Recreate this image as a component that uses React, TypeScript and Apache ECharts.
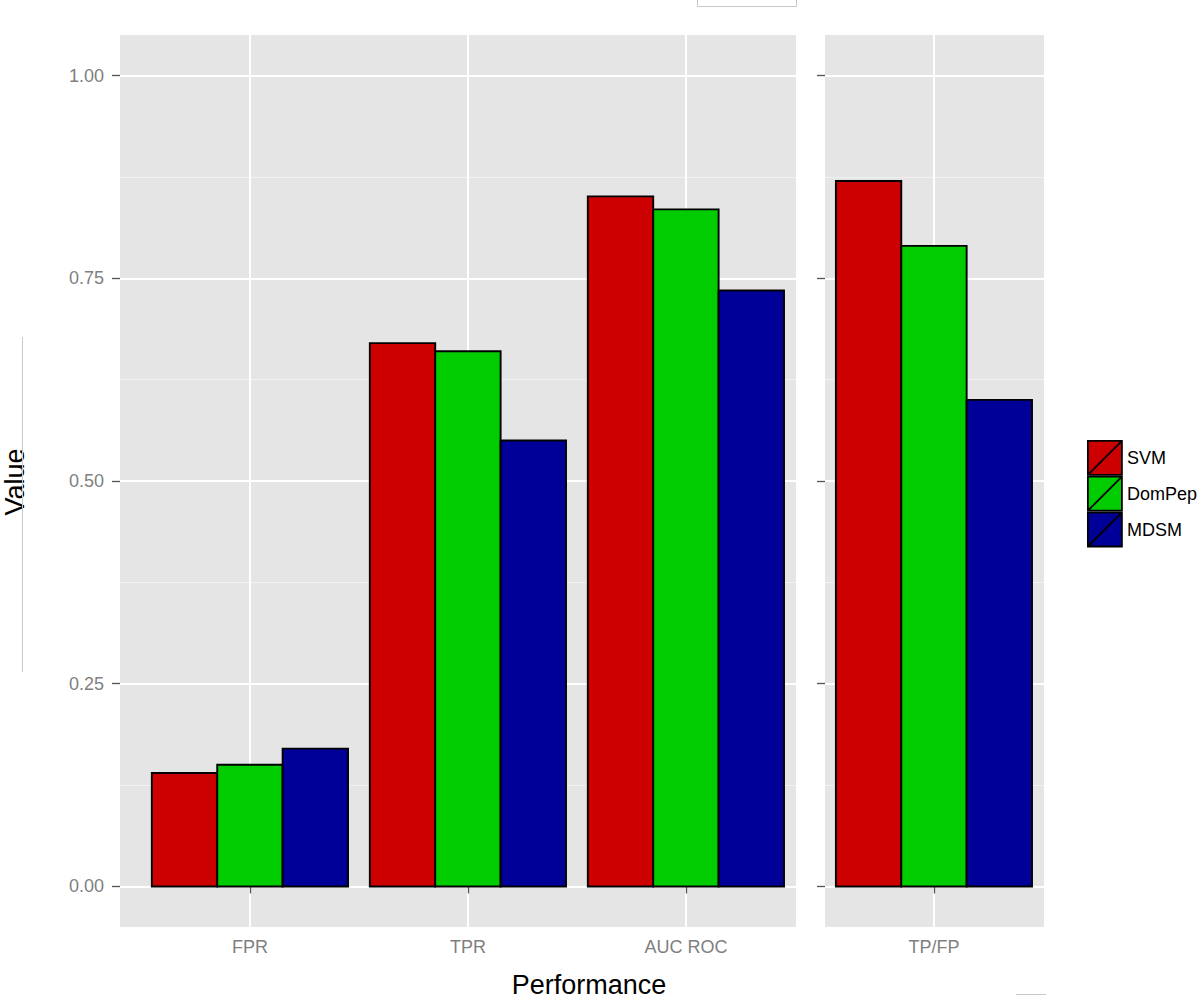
import React, { useEffect, useRef } from "react";
import * as echarts from "echarts";

// ---- data ----
const leftCategories = ["FPR", "TPR", "AUC ROC"];
const rightCategories = ["TP/FP"];
const methods = ["SVM", "DomPep", "MDSM"];
const methodColors = ["#CC0000", "#00CC00", "#000099"];
const svmLeft = [0.14, 0.67, 0.851];
const domPepLeft = [0.15, 0.66, 0.835];
const mdsmLeft = [0.17, 0.55, 0.735];
const svmRight = [0.87];
const domPepRight = [0.79];
const mdsmRight = [0.6];
const yMajorTicks = [0, 0.25, 0.5, 0.75, 1];
const yMinorTicks = [0.125, 0.375, 0.625, 0.875];

const leftValues = [svmLeft, domPepLeft, mdsmLeft];
const rightValues = [svmRight, domPepRight, mdsmRight];

const FONT = "'Liberation Sans', Arial, Helvetica, sans-serif";
const BAR_W = 0.3; // width of one bar in category units (dodge width 0.9 / 3)
const OFFSETS = [-0.3, 0, 0.3];

function makeRenderItem(offset: number) {
  return (params: any, api: any) => {
    const x = api.value(0) as number;
    const v = api.value(1) as number;
    const p0 = api.coord([x + offset - BAR_W / 2, v]);
    const p1 = api.coord([x + offset + BAR_W / 2, 0]);
    return {
      type: "rect",
      shape: { x: p0[0], y: p0[1], width: p1[0] - p0[0], height: p1[1] - p0[1] },
      style: { fill: api.visual("color"), stroke: "#000", lineWidth: 1.9 },
    };
  };
}

function buildOption() {
  const yCommonMajor = (showLabel: boolean, gridIndex: number) => ({
    type: "value",
    gridIndex,
    min: -0.05,
    max: 1.05,
    axisLine: { show: false },
    axisTick: {
      show: true,
      length: 8,
      customValues: yMajorTicks,
      lineStyle: { color: "#555555", width: 1.3 },
    },
    axisLabel: {
      show: showLabel,
      customValues: yMajorTicks,
      formatter: (v: number) => v.toFixed(2),
      fontSize: 18,
      color: "#7F7F7F",
      fontFamily: FONT,
      margin: 16,
    },
    splitLine: { show: true, lineStyle: { color: "#FFFFFF", width: 2 } },
  });
  const yMinor = (gridIndex: number) => ({
    type: "value",
    gridIndex,
    position: "left",
    min: -0.05,
    max: 1.05,
    axisLine: { show: false },
    axisTick: { show: false, customValues: yMinorTicks },
    axisLabel: { show: false },
    splitLine: { show: true, lineStyle: { color: "#F2F2F2", width: 1 } },
  });
  const xAxisFor = (cats: string[], gridIndex: number, min: number, max: number) => {
    const vals = cats.map((_, i) => i + 1);
    return {
      type: "value",
      gridIndex,
      min,
      max,
      axisLine: { show: false },
      axisTick: {
        show: true,
        length: 7,
        customValues: vals,
        lineStyle: { color: "#555555", width: 1.3 },
      },
      axisLabel: {
        customValues: vals,
        formatter: (v: number) => cats[Math.round(v) - 1] ?? "",
        fontSize: 18,
        color: "#7F7F7F",
        fontFamily: FONT,
        margin: 11,
      },
      splitLine: { show: true, lineStyle: { color: "#FFFFFF", width: 2 } },
    };
  };

  const series: any[] = [];
  methods.forEach((m, mi) => {
    series.push({
      type: "custom",
      name: m,
      xAxisIndex: 0,
      yAxisIndex: 0,
      itemStyle: { color: methodColors[mi] },
      renderItem: makeRenderItem(OFFSETS[mi]),
      encode: { x: 0, y: 1 },
      data: leftCategories.map((_, i) => [i + 1, leftValues[mi][i]]),
      z: 3,
    });
    series.push({
      type: "custom",
      name: m,
      xAxisIndex: 1,
      yAxisIndex: 2,
      itemStyle: { color: methodColors[mi] },
      renderItem: makeRenderItem(OFFSETS[mi]),
      encode: { x: 0, y: 1 },
      data: rightCategories.map((_, i) => [i + 1, rightValues[mi][i]]),
      z: 3,
    });
  });

  const lineStyle = { stroke: "#C8C8C8", lineWidth: 1 };

  return {
    animation: false,
    backgroundColor: "#FFFFFF",
    textStyle: { fontFamily: FONT },
    grid: [
      {
        left: 120, top: 35, width: 676, height: 892,
        show: true, backgroundColor: "#E5E5E5", borderWidth: 0,
        outerBoundsMode: "none",
      },
      {
        left: 825, top: 35, width: 219, height: 892,
        show: true, backgroundColor: "#E5E5E5", borderWidth: 0,
        outerBoundsMode: "none",
      },
    ],
    xAxis: [
      xAxisFor(leftCategories, 0, 0.404, 3.505),
      xAxisFor(rightCategories, 1, 0.5, 1.505),
    ],
    yAxis: [yCommonMajor(true, 0), yMinor(0), yCommonMajor(false, 1), yMinor(1)],
    legend: {
      orient: "vertical",
      left: 1087,
      top: 440,
      padding: 0,
      itemGap: 0,
      itemWidth: 34,
      itemHeight: 34,
      selectedMode: false,
      textStyle: { fontSize: 18, color: "#000", fontFamily: FONT, padding: [0, 0, 0, 0] },
      data: methods.map((m, mi) => ({
        name: m,
        icon: "path://M0,0L10,0L10,10L0,10ZM0,10L10,0",
        itemStyle: { color: methodColors[mi], borderColor: "#000", borderWidth: 1.8 },
      })),
    },
    graphic: [
      {
        type: "text",
        x: 589,
        y: 985,
        style: {
          text: "Performance",
          fontSize: 27,
          fontFamily: FONT,
          fill: "#000",
          align: "center",
          verticalAlign: "middle",
        },
      },
      {
        type: "text",
        x: 15,
        y: 482,
        rotation: Math.PI / 2,
        style: {
          text: "Value",
          fontSize: 27,
          fontFamily: FONT,
          fill: "#000",
          align: "center",
          verticalAlign: "middle",
        },
      },
      { type: "line", shape: { x1: 22.5, y1: 337, x2: 22.5, y2: 672 }, style: lineStyle },
      { type: "line", shape: { x1: 697.5, y1: 0, x2: 697.5, y2: 6 }, style: lineStyle },
      { type: "line", shape: { x1: 796.5, y1: 0, x2: 796.5, y2: 6 }, style: lineStyle },
      { type: "line", shape: { x1: 697, y1: 6.5, x2: 797, y2: 6.5 }, style: lineStyle },
      { type: "line", shape: { x1: 1016, y1: 994.5, x2: 1046, y2: 994.5 }, style: lineStyle },
    ],
    series,
  };
}

export default function App() {
  const ref = useRef<HTMLDivElement>(null);
  useEffect(() => {
    if (!ref.current) return;
    const chart = echarts.init(ref.current, undefined, { renderer: "svg" });
    chart.setOption(buildOption() as any);
    return () => chart.dispose();
  }, []);
  return (
    <div
      ref={ref}
      style={{ position: "absolute", left: 0, top: 0, width: 1200, height: 1000 }}
    />
  );
}
